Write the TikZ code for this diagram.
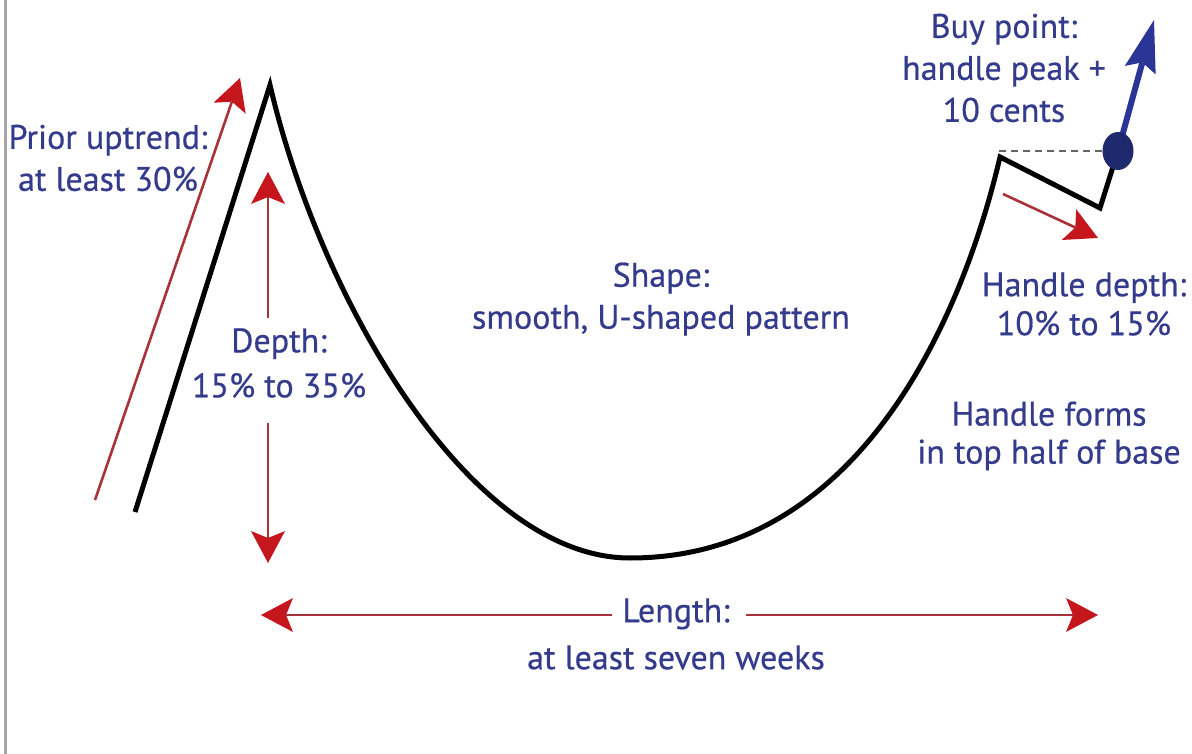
\documentclass[tikz,border=0pt]{standalone}
\usepackage{fontspec}
\setmainfont{PT Sans}
\newfontfamily\lblfont{PT Sans}[FakeBold=0.5]
\usetikzlibrary{arrows.meta}
\definecolor{txtblue}{HTML}{343A8C}
\definecolor{arrred}{HTML}{C4161C}
\definecolor{lnred}{HTML}{A8323A}
\definecolor{buyblue}{HTML}{2B3596}
\definecolor{dotblue}{HTML}{1F2A6E}
\tikzset{
  lbl/.style={text=txtblue, font=\lblfont\fontsize{34}{42}\selectfont, align=center, inner sep=0pt},
  redarrow/.style={draw=lnred, line width=2.6pt, -{Stealth[length=32pt,width=34pt,inset=7pt,line width=0pt,color=arrred,fill=arrred]}},
  cupline/.style={draw=black, line width=5pt, line join=miter},
}
\begin{document}
\begin{tikzpicture}[x=1pt,y=-1pt]
\useasboundingbox (0,0) rectangle (1192,754);
\fill[white] (0,0) rectangle (1192,754);
\draw[gray!70, line width=3pt] (5,0) -- (5,754);
% coordinates
\coordinate (start) at (135,512);
\coordinate (peak) at (270,85);
\coordinate (bottom) at (630,558);
\coordinate (hpeak) at (1000,157);
\coordinate (hlow) at (1100,208);
\coordinate (buy) at (1118,151);
\coordinate (buytip) at (1154,20);
% cup
\draw[cupline] (start) -- (peak) .. controls (320,300) and (470,558) .. (bottom)
  .. controls (880,558) and (972.8,273.9) .. (hpeak) -- (hlow) -- (buy);
% dashed buy line
\draw[gray!80!black, line width=1.2pt, dash pattern=on 7pt off 5pt] (999,151) -- (buy);
% blue arrow
\draw[buyblue, line width=6pt, -{Stealth[length=52pt,width=32pt,inset=8pt,line width=0pt]}] (buy) -- (buytip);
\fill[dotblue] (buy) ellipse [x radius=15.5pt, y radius=19pt];
% labels
\node[lbl] (prior) at (108,158) {Prior uptrend:\\at least 30\%};
\node[lbl, font=\lblfont\fontsize{34}{45}\selectfont] (depth) at (279,363) {Depth:\\15\% to 35\%};
\node[lbl] (shape) at (661,299) {Shape:\\smooth, U-shaped pattern};
\node[lbl, font=\lblfont\fontsize{34}{47}\selectfont] (length) at (676,634) {Length:\\at least seven weeks};
\node[lbl] (buypt) at (1004,68) {Buy point:\\handle peak +\\10 cents};
\node[lbl, font=\lblfont\fontsize{34}{39}\selectfont] (hdepth) at (1084,304) {Handle depth:\\10\% to 15\%};
\node[lbl, font=\lblfont\fontsize{34}{38}\selectfont] (hforms) at (1049,436) {Handle forms\\in top half of base};
% red arrows
\coordinate (pt) at (95,500);
\coordinate (ph) at (240,78);
\draw[redarrow] (pt) -- (ph);
\coordinate (du) at (268,318);
\coordinate (dut) at (268,172);
\coordinate (dd) at (268,423);
\coordinate (ddt) at (268,563);
\draw[redarrow] (du) -- (dut);
\draw[redarrow] (dd) -- (ddt);
\coordinate (ll) at (612,615);
\coordinate (llt) at (261,615);
\coordinate (lr) at (746,615);
\coordinate (lrt) at (1098,615);
\draw[redarrow] (ll) -- (llt);
\draw[redarrow] (lr) -- (lrt);
\coordinate (ht) at (1003,194);
\coordinate (hh) at (1098,238);
\draw[redarrow] (ht) -- (hh);
\end{tikzpicture}
\end{document}
